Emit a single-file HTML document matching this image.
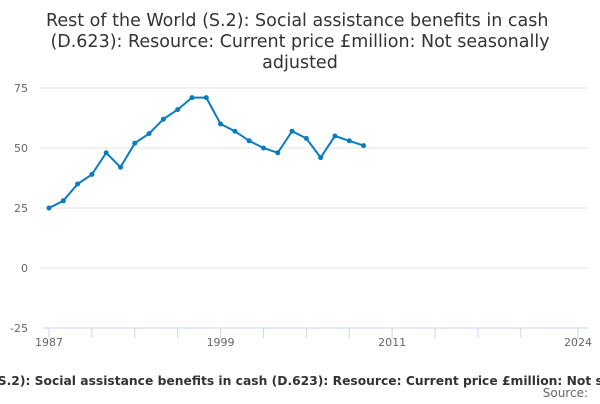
<!DOCTYPE html>
<html><head><meta charset="utf-8"><style>
body{margin:0;width:600px;height:400px;overflow:hidden;background:#fff;font-family:"DejaVu Sans","Liberation Sans",sans-serif;}
</style></head><body>
<svg width="600" height="400" id="c">
<text x="300" y="26" text-anchor="middle" font-size="17.5" fill="#333">Rest of the World (S.2): Social assistance benefits in cash
<tspan x="300" dy="21">(D.623): Resource: Current price £million: Not seasonally</tspan><tspan x="300" dy="21">adjusted</tspan></text>
<g id="grid"></g><g id="xt"></g><g id="series"></g>
<text x="300" y="385" text-anchor="middle" font-size="12.3" font-weight="bold" fill="#333">Rest of the World (S.2): Social assistance benefits in cash (D.623): Resource: Current price £million: Not seasonally adjusted</text>
<text x="588" y="397" text-anchor="end" font-size="12" fill="#666">Source:</text>
</svg>
<script>
const years=[1987,1988,1989,1990,1991,1992,1993,1994,1995,1996,1997,1998,1999,2000,2001,2002,2003,2004,2005,2006,2007,2008,2009];
const values=[25,28,35,39,48,42,52,56,62,66,71,71,60,57,53,50,48,57,54,46,55,53,51];
const yTicks=[-25,0,25,50,75];
const xTickYears=[1987,1990,1993,1996,1999,2002,2005,2008,2011,2014,2017,2020,2024];
const xLabels=[1987,1999,2011,2024];
const NS="http://www.w3.org/2000/svg";
const xs=y=>49+(y-1987)*(578-49)/37;
const ys=v=>268-v*2.4;
function mk(t,a,p){const e=document.createElementNS(NS,t);for(const k in a)e.setAttribute(k,a[k]);p.appendChild(e);return e;}
const g=document.getElementById('grid');
yTicks.forEach(v=>{
 if(v>-25){const l=mk('line',{x1:40,x2:588,y1:ys(v),y2:ys(v),stroke:'#e6e6e6'},g);
 
 }
 const t=mk('text',{x:28,y:ys(v)+4,'text-anchor':'end','font-size':11,fill:'#666'},g);t.textContent=v;
 
 
});
const xt=document.getElementById('xt');
const ax=mk('line',{x1:43,x2:588,y1:328,y2:328,stroke:'#ccd6eb'},xt);


xTickYears.forEach(y=>{const l=mk('line',{x1:xs(y),x2:xs(y),y1:328,y2:338,stroke:'#ccd6eb'},xt);
 
 });
xLabels.forEach(y=>{const t=mk('text',{x:xs(y),y:346,'text-anchor':'middle','font-size':11,fill:'#666'},xt);t.textContent=y;
 
 });
const s=document.getElementById('series');
const p=mk('path',{d:years.map((y,i)=>(i?'L':'M')+xs(y)+' '+ys(values[i])).join(' '),fill:'none',stroke:'#0a7bc1','stroke-width':2},s);


years.forEach((y,i)=>{const c=mk('circle',{cx:xs(y),cy:ys(values[i]),r:2.5,fill:'#0a7bc1'},s);
 
 });
</script>
</body></html>
